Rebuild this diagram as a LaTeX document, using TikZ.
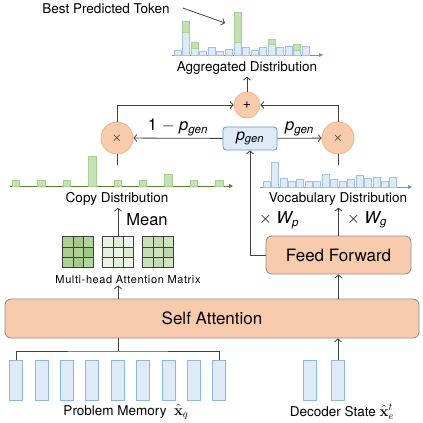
\RequirePackage{fix-cm}
\documentclass[tikz,border=0pt]{standalone}
\usepackage[no-math]{fontspec}
\setmainfont{TeX Gyre Heros}
\newfontfamily\mhfont[LetterSpace=5.5]{TeX Gyre Heros}
\usepackage{amsmath}
\usetikzlibrary{positioning,calc,arrows.meta}

\definecolor{lorange}{HTML}{F8CBAD}
\definecolor{corange}{HTML}{F4B183}
\definecolor{boxgray}{HTML}{8C8C8C}
\definecolor{lblue}{HTML}{DEEBF7}
\definecolor{vblue}{HTML}{8AB6E0}
\definecolor{pblue}{HTML}{5B9BD5}
\definecolor{barblue}{HTML}{9DC3E6}
\definecolor{gfill}{HTML}{C5E0B4}
\definecolor{gline}{HTML}{A9D18E}
\definecolor{gaxisc}{HTML}{548235}
\definecolor{mgreen}{HTML}{70AD47}
\definecolor{linec}{HTML}{404040}

\newcommand{\pgen}{\textit{p\textsubscript{gen}}}

\tikzset{
    line/.style={draw=linec, line width=0.8pt},
    arr/.style={line, -{Straight Barb[length=3pt,width=7pt]}},
    bigbox/.style={draw=boxgray, fill=lorange, rounded corners=6pt, line width=0.8pt, font=\fontsize{17}{20}\selectfont},
    opcircle/.style={circle, draw=corange, fill=lorange, inner sep=0pt, line width=0.8pt},
    pgenbox/.style={draw=pblue, fill=lblue, rounded corners=3pt, line width=0.8pt, inner sep=0pt, font=\fontsize{16}{18}\selectfont},
    vecbox/.style={draw=vblue, fill=lblue, minimum width=13pt, minimum height=40pt, inner sep=0pt, line width=0.7pt},
    matbox/.style={draw=linec, minimum size=31pt, inner sep=0pt, line width=0.7pt},
    lbl/.style={font=\fontsize{13.5}{16}\selectfont, inner sep=2pt},
    mlbl/.style={font=\fontsize{16.5}{19}\selectfont, inner sep=1pt},
    bbar/.style={draw=barblue, fill=lblue, line width=0.7pt},
    gbar/.style={draw=gline, fill=gfill, line width=0.7pt},
    baxis/.style={draw=pblue, line width=0.8pt, -{Triangle[length=4pt,width=4pt]}},
    gaxis/.style={draw=gaxisc, line width=0.8pt, -{Triangle[length=4pt,width=4pt]}},
    gridline/.style={draw=linec, line width=0.6pt}
}

\begin{document}
\begin{tikzpicture}[x=1pt,y=-1pt]
    \useasboundingbox (0,0) rectangle (423,423);

    % inputs
    \foreach \i in {1,...,9}
        \node[vecbox] (mem\i) at ({16+25.4*(\i-1)},380) {};
    \node[vecbox] (dec1) at (310,380) {};
    \node[vecbox] (dec2) at (338,380) {};
    \node[lbl] (memtxt) at (126,412) {Problem Memory \ {\fontsize{15}{17}\selectfont$\hat{\mathbf{x}}_q$}};
    \node[lbl] (dectxt) at (342,412) {Decoder State {\fontsize{15}{17}\selectfont$\hat{\mathbf{x}}_e^t$}};

    % encoder blocks
    \node[bigbox, minimum width=414pt, minimum height=39pt] (selfatt) at (212,318.5) {Self Attention};
    \node[bigbox, minimum width=145pt, minimum height=38pt] (ff) at (338.5,255) {Feed Forward};

    \coordinate (brace) at (118,351);
    \draw[line] (mem1.north) |- (brace) -| (mem9.north);
    \draw[line] (brace) -- (brace |- selfatt.south);
    \draw[arr] (dec2) -- (dec2 |- selfatt.south);

    % attention matrices
    \foreach \m/\cx/\base in {L/78/58, M/118/16, R/158/38} {
        \foreach \k in {0,...,8} {
            \pgfmathtruncatemacro\col{mod(\k,3)}
            \pgfmathtruncatemacro\row{div(\k,3)}
            \pgfmathtruncatemacro\sh{\base+{0,5,-4,3,-3,8,-2,4,-5}[\k]}
            \fill[mgreen!\sh!white] ({\cx-15.5+\col*31/3},{236.5+\row*31/3}) rectangle ++(31/3,31/3);
        }
        \foreach \t in {1,2} {
            \draw[gridline] ({\cx-15.5+\t*31/3},236.5) -- ++(0,31);
            \draw[gridline] ({\cx-15.5},{236.5+\t*31/3}) -- ++(31,0);
        }
        \node[matbox] (mat\m) at (\cx,252) {};
    }
    \node[font=\mhfont\fontsize{11}{13}\selectfont, inner sep=1pt] (mhtxt) at (128,280) {Multi-head Attention Matrix};
    \draw[arr] (selfatt.north -| matM) -- (matM |- mhtxt.south);
    \draw[arr] (selfatt.north -| ff) -- (ff);

    % copy distribution
    \draw[gaxis] (10,186) -- (233,186);
    \foreach \h [count=\i from 0] in {6,6,6,30,6,6,12,6,6}
        \draw[gbar] ({16+25.4*\i-3.75},186) rectangle ++(7.5,-\h);
    \node[lbl] (copytxt) at (117,199) {Copy Distribution};
    \draw[arr] (matM) -- (matM |- copytxt.south);
    \node[mlbl] (meantxt) at (147,220) {Mean};

    % vocabulary distribution
    \draw[baxis] (260,187) -- (412,187);
    \foreach \h [count=\i from 0] in {6,25,9,6,8,6,6,13,8,6,8,12,9,10,6,10}
        \draw[bbar] ({263+8.45*\i},187) rectangle ++(7,-\h);
    \node[lbl] (vocabtxt) at (338,199) {Vocabulary Distribution};
    \draw[arr] (ff) -- (ff |- vocabtxt.south);
    \node[mlbl] (wp) at (279,220) {$\times$ \textit{W\textsubscript{p}}};
    \node[mlbl] (wg) at (367,220) {$\times$ \textit{W\textsubscript{g}}};

    % gating
    \node[opcircle, minimum size=32pt, font=\fontsize{13}{15}\selectfont] (timesL) at (117,138) {$\times$};
    \node[opcircle, minimum size=32pt, font=\fontsize{13}{15}\selectfont] (timesR) at (338,138) {$\times$};
    \node[opcircle, minimum size=26pt, font=\fontsize{14}{16}\selectfont] (plus) at (247,105) {+};
    \node[pgenbox, minimum width=54pt, minimum height=23pt] (pgen) at (250,138.5) {\pgen};

    \coordinate (copytop) at (117,165);
    \coordinate (vocabtop) at (338,165);
    \draw[line] (copytop) -- (timesL);
    \draw[line] (vocabtop) -- (timesR);

    \draw[arr] (ff.west) -| (pgen);
    \draw[arr] (pgen) -- (timesL) node[mlbl, midway, above=1pt] {1 $-$ \pgen};
    \draw[arr] (pgen) -- (timesR) node[mlbl, midway, above=1pt] {\pgen};
    \draw[arr] (timesL) |- (plus);
    \draw[arr] (timesR) |- (plus);

    % aggregated distribution
    \draw[baxis] (172,55) -- (323,55);
    \foreach \b/\g [count=\i from 0] in {5/0,23/11,7/6,4/0,8/0,4/0,6/0,13/30,8/0,5/0,8/0,11/5,8/0,9/0,5/6,9/0} {
        \draw[bbar] ({174+8.55*\i},55) rectangle ++(7,-\b);
        \ifnum\g>0 \draw[gbar] ({174+8.55*\i},55-\b) rectangle ++(7,-\g); \fi
    }
    \node[lbl] (aggtxt) at (247,68) {Aggregated Distribution};
    \draw[arr] (plus) -- (aggtxt);

    \node[lbl] (best) at (106,9) {Best Predicted Token};
    \coordinate (besttip) at (225,23);
    \draw[arr] ([xshift=11pt,yshift=1pt]best.east) -- (besttip);
\end{tikzpicture}
\end{document}
